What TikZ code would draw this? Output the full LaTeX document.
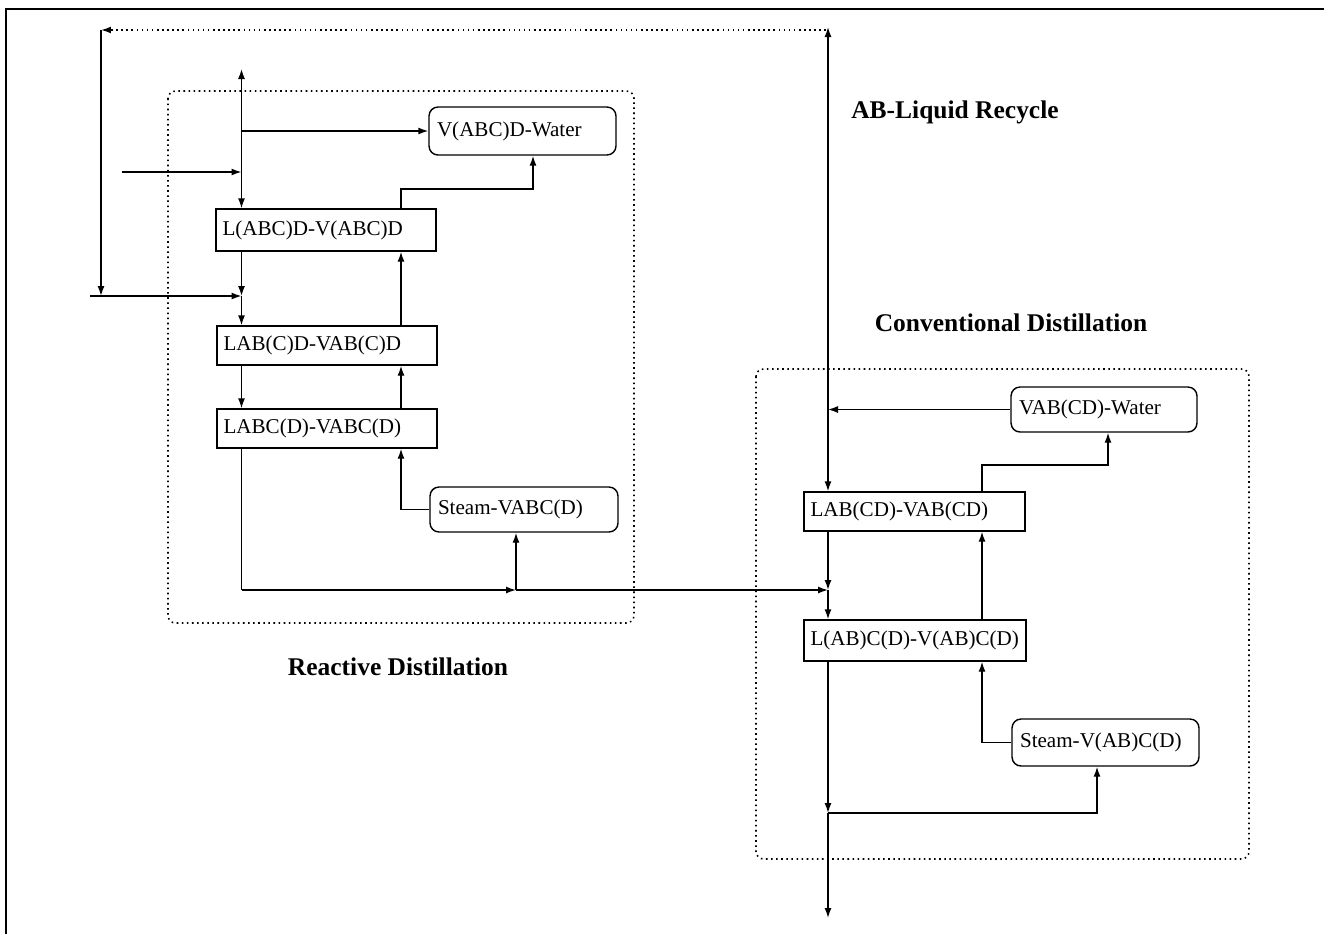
\documentclass[tikz,border=0pt]{standalone}
\usepackage{fontspec}
\setmainfont{Liberation Serif}
\usetikzlibrary{arrows.meta}
\begin{document}
\begin{tikzpicture}[x=0.02cm,y=-0.02cm,
  line width=0.8pt,
  arr/.style={-{Latex[length=2mm,width=1.4mm]}},
  barr/.style={{Latex[length=2mm,width=1.4mm]}-{Latex[length=2mm,width=1.4mm]}},
  stage/.style={draw, rectangle, align=left, inner xsep=0.13cm, inner ysep=0pt,
     text width=#1, font=\fontsize{12}{14}\selectfont},
  rstage/.style={draw, rectangle, rounded corners=0.18cm, align=left, inner xsep=0.16cm, inner ysep=0pt,
     text width=#1, font=\fontsize{12}{14}\selectfont},
  ttl/.style={font=\fontsize{14.5}{17}\selectfont\bfseries},
  grp/.style={dotted, line width=0.9pt, rounded corners=0.15cm}]
\useasboundingbox (0,0) rectangle (1324,934);
% outer frame
\draw[line width=1pt] (6,934) -- (6,9) -- (1324,9);
% group frames
\draw[grp] (168,91) rectangle (634,623);
\draw[grp] (756,369) rectangle (1249,859);
% titles
\node[ttl] (t1) at (955,112) {AB-Liquid Recycle};
\node[ttl] (t2) at (1011,323) {Conventional Distillation};
\node[ttl] (t3) at (398,667) {Reactive Distillation};
% reactive stages
\node[stage=4.14cm, minimum height=0.84cm] (r1) at (326,230) {\mbox{L(ABC)D-V(ABC)D}};
\node[stage=4.14cm, minimum height=0.78cm] (r2) at (327,345.5) {\mbox{LAB(C)D-VAB(C)D}};
\node[stage=4.14cm, minimum height=0.78cm] (r3) at (327,428.5) {\mbox{LABC(D)-VABC(D)}};
\node[rstage=3.42cm, minimum height=0.96cm] (rw) at (522.5,131) {\mbox{V(ABC)D-Water}};
\node[rstage=3.44cm, minimum height=0.9cm] (rs) at (524,509.5) {\mbox{Steam-VABC(D)}};
% conventional stages
\node[stage=4.16cm, minimum height=0.78cm] (c1) at (914.5,511.5) {\mbox{LAB(CD)-VAB(CD)}};
\node[stage=4.18cm, minimum height=0.82cm] (c2) at (915,640.5) {\mbox{L(AB)C(D)-V(AB)C(D)}};
\node[rstage=3.40cm, minimum height=0.9cm] (cw) at (1104,409.5) {\mbox{VAB(CD)-Water}};
\node[rstage=3.42cm, minimum height=0.94cm] (cs) at (1105.5,742.5) {\mbox{Steam-V(AB)C(D)}};
% column lines
\coordinate (rL) at (241.5,0);
\coordinate (rR) at (401,0);
\coordinate (cL) at (828,0);
\coordinate (cR) at (982,0);
% reactive column connectors
\coordinate (rtop) at (241.5,69);
\coordinate (j1) at (241.5,131);
\coordinate (f1s) at (122,172);
\coordinate (f1e) at (241.5,172);
\coordinate (f2s) at (90,296);
\coordinate (f2) at (241.5,296);
\coordinate (rwx) at (533,189);
\draw[barr] (rtop) -- (r1.north -| rL);
\draw[arr] (j1) -- (rw.west);
\draw[arr] (f1s) -- (f1e);
\draw[arr] (r1.north -| rR) |- (rwx) -- (rwx |- rw.south);
\draw[arr] (r1.south -| rL) -- (f2);
\draw[arr] (f2) -- (r2.north -| rL);
\draw[arr] (f2s) -- (f2);
\draw[arr] (r2.north -| rR) -- (r1.south -| rR);
\draw[arr] (r2.south -| rL) -- (r3.north -| rL);
\draw[arr] (r3.north -| rR) -- (r2.south -| rR);
\draw[arr] (rs.west) -| (r3.south -| rR);
\coordinate (rb) at (241.5,590);
\coordinate (rsx) at (516,590);
\coordinate (cf) at (828,590);
\draw (r3.south -| rL) -- (rb);
\draw[arr] (rb) -- (rsx);
\draw[arr] (rsx) -- (cf);
\draw[arr] (rsx) -- (rsx |- rs.south);
% recycle
\coordinate (ctop) at (828,27);
\coordinate (rcA) at (826,30);
\coordinate (rc1) at (101,30);
\coordinate (rc2) at (101,296);
\draw[dotted, line width=0.9pt, arr] (rcA) -- (rc1);
\draw[arr] (rc1) -- (rc2);
% conventional column connectors
\coordinate (cj) at (828,409.5);
\coordinate (cwx) at (1108,465);
\draw[barr] (ctop) -- (c1.north -| cL);
\draw[arr] (cw.west) -- (cj);
\draw[arr] (c1.north -| cR) |- (cwx) -- (cwx |- cw.south);
\draw[arr] (c1.south -| cL) -- (cf);
\draw[arr] (cf) -- (c2.north -| cL);
\draw[arr] (c2.north -| cR) -- (c1.south -| cR);
\draw[arr] (cs.west) -| (c2.south -| cR);
\coordinate (cb) at (828,813);
\coordinate (cbo) at (828,918);
\coordinate (csx) at (1097,813);
\draw[arr] (c2.south -| cL) -- (cb);
\draw[arr] (cb) -- (cbo);
\draw[arr] (cb) -- (csx) -- (csx |- cs.south);
\end{tikzpicture}
\end{document}
